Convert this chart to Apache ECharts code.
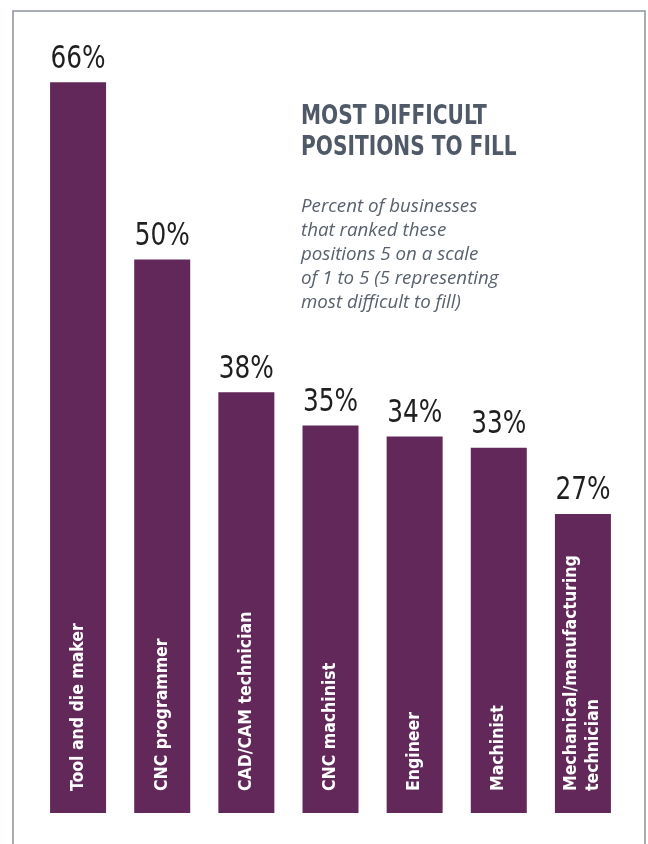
<!DOCTYPE html>
<html>
<head>
<meta charset="utf-8">
<script src="https://cdn.jsdelivr.net/npm/echarts@6/dist/echarts.min.js"></script>
<style>
  html, body { margin: 0; padding: 0; background: #ffffff; }
  #chart { width: 648px; height: 844px; }
</style>
</head>
<body>
<div id="chart"></div>
<script>
// Positions and the share of businesses rating each one hardest to fill
const categories = [
  'Tool and die maker',
  'CNC programmer',
  'CAD/CAM technician',
  'CNC machinist',
  'Engineer',
  'Machinist',
  'Mechanical/manufacturing\ntechnician'
];
const percents = [66, 50, 38, 35, 34, 33, 27];

const titleText = 'MOST DIFFICULT\nPOSITIONS TO FILL';
const subtitleText = 'Percent of businesses\nthat ranked these\npositions 5 on a scale\nof 1 to 5 (5 representing\nmost difficult to fill)';

const barColor = '#62285a';
const narrow = '"DejaVu Sans Condensed", "Liberation Sans Narrow", sans-serif';

const chart = echarts.init(document.getElementById('chart'), null, { renderer: 'canvas' });

// value text sitting above each bar, squeezed horizontally for a condensed look
function renderValueLabel(params, api) {
  const pt = api.coord([api.value(0), api.value(1)]);
  return {
    type: 'text',
    x: pt[0],
    y: pt[1] - 23,
    scaleX: 0.86,
    style: {
      text: api.value(1) + '%',
      x: 0,
      y: 0,
      textAlign: 'center',
      textVerticalAlign: 'middle',
      font: '32px ' + narrow,
      fill: '#1f1f1f'
    }
  };
}

chart.setOption({
  backgroundColor: '#ffffff',
  animation: false,
  grid: { left: 36, right: 23, top: 38, bottom: 31, containLabel: false },
  xAxis: {
    type: 'category',
    data: categories,
    axisLine: { show: false },
    axisTick: { show: false },
    axisLabel: { show: false }
  },
  yAxis: {
    type: 'value',
    min: 0,
    max: 70,
    show: false,
    splitLine: { show: false }
  },
  series: [
    {
      // purple bars with the position name written up the bar
      type: 'bar',
      data: percents,
      barWidth: 56,
      itemStyle: { color: barColor },
      label: {
        show: true,
        position: 'insideBottom',
        distance: 22,
        rotate: 90,
        align: 'left',
        verticalAlign: 'middle',
        formatter: (p) => categories[p.dataIndex],
        color: '#ffffff',
        fontFamily: narrow,
        fontWeight: 'bold',
        fontSize: 17.5,
        lineHeight: 22
      }
    },
    {
      type: 'custom',
      silent: true,
      data: percents.map((v, i) => [i, v]),
      encode: { x: 0, y: 1 },
      renderItem: renderValueLabel
    }
  ],
  graphic: [
    {
      // open frame around the panel (left, top, right edges)
      type: 'polyline',
      silent: true,
      shape: { points: [[13, 844], [13, 11], [645, 11], [645, 844]] },
      style: { fill: null, stroke: '#8c939c', lineWidth: 1.5 }
    },
    {
      // heading
      type: 'text',
      x: 301,
      y: 101,
      scaleX: 0.83,
      silent: true,
      style: {
        text: titleText,
        font: 'bold 27px ' + narrow,
        lineHeight: 31,
        fill: '#4f5968',
        textVerticalAlign: 'top'
      }
    },
    {
      // explanatory note
      type: 'text',
      x: 301,
      y: 195,
      scaleX: 1.07,
      silent: true,
      style: {
        text: subtitleText,
        font: 'italic 17.5px "Open Sans", Lato, sans-serif',
        lineHeight: 24,
        fill: '#58616d',
        textVerticalAlign: 'top'
      }
    }
  ]
});
</script>
</body>
</html>
